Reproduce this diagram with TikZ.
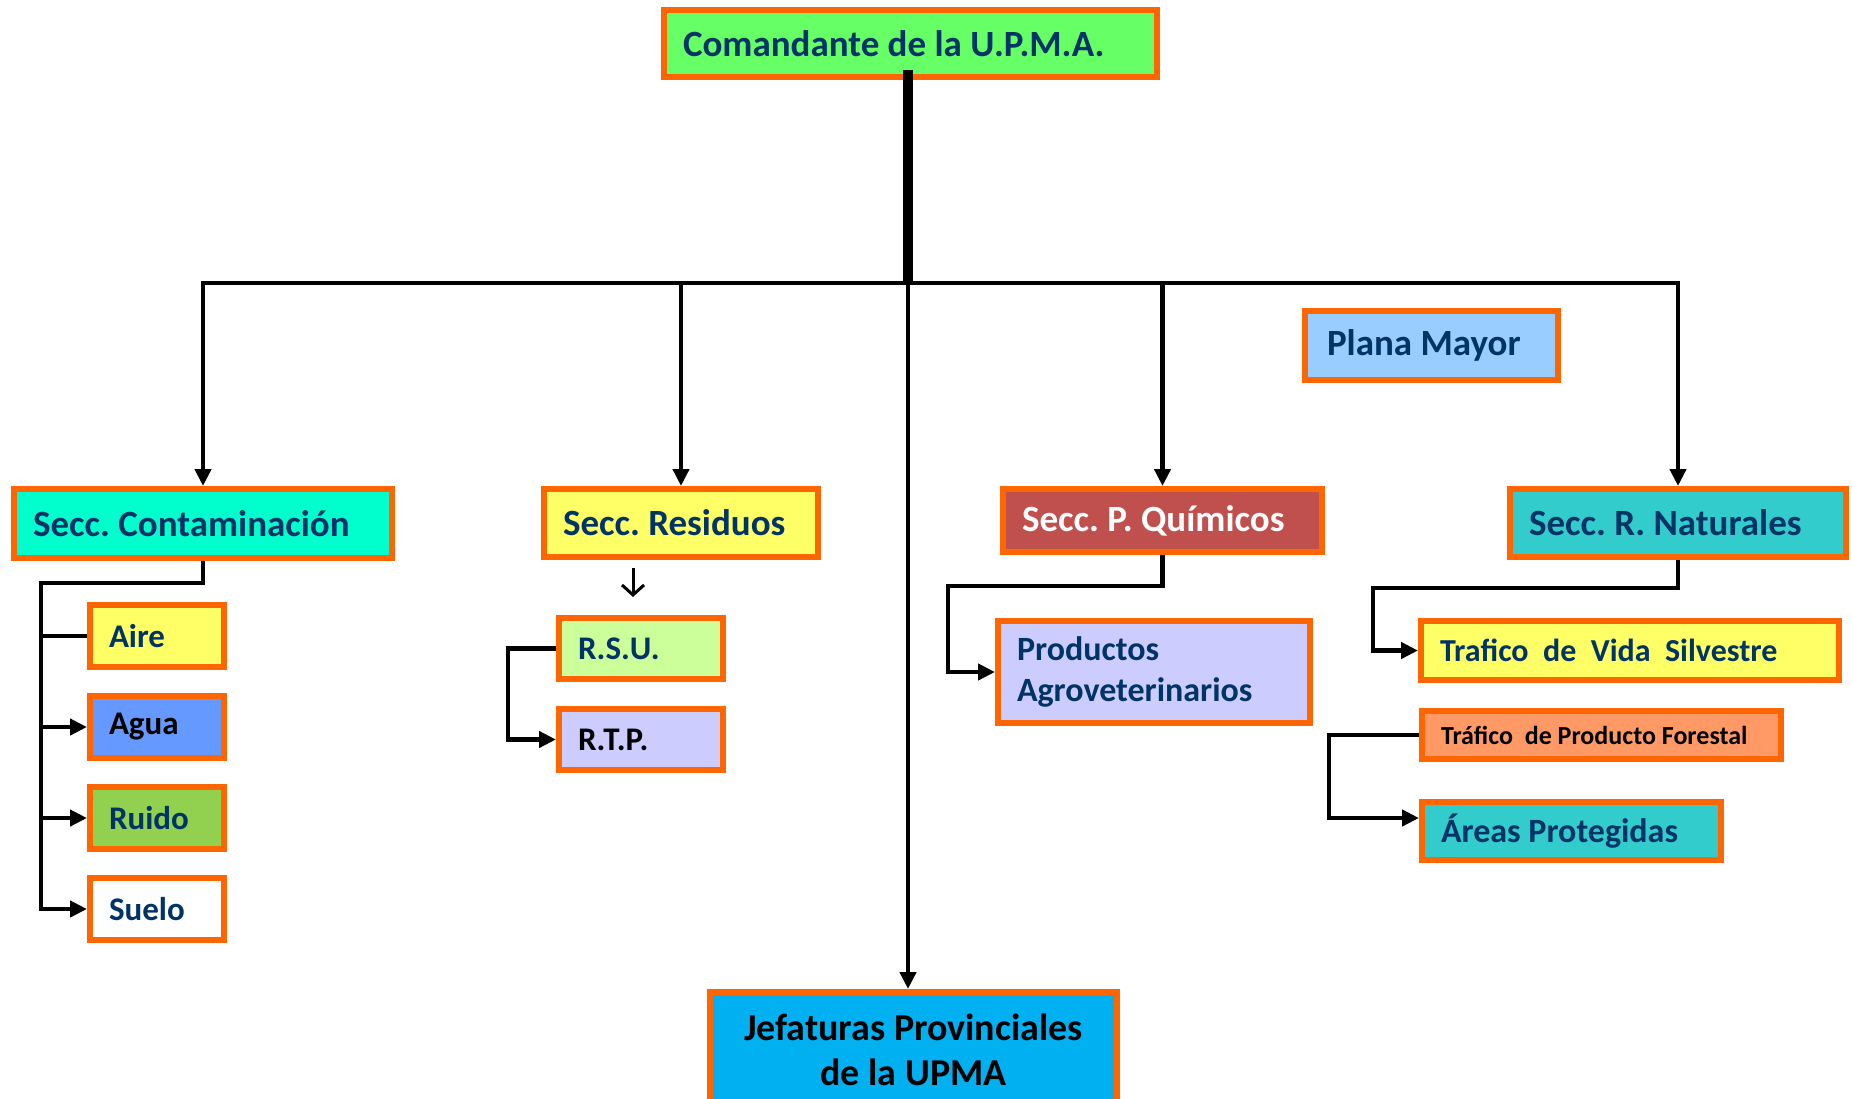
\documentclass[tikz,border=0pt]{standalone}
\usepackage{fontspec}
\setmainfont{Carlito}
\usetikzlibrary{arrows.meta}
\definecolor{naranja}{HTML}{FF6600}
\definecolor{marino}{HTML}{003366}
\definecolor{verdecom}{HTML}{66FF66}
\definecolor{turquesa}{HTML}{00FFCC}
\definecolor{amarillo}{HTML}{FFFF66}
\definecolor{rojizo}{HTML}{C0504D}
\definecolor{cian}{HTML}{33CCCC}
\definecolor{celeste}{HTML}{99CCFF}
\definecolor{azulagua}{HTML}{6699FF}
\definecolor{verderuido}{HTML}{92D050}
\definecolor{verdeclaro}{HTML}{CCFF99}
\definecolor{lila}{HTML}{CCCCFF}
\definecolor{salmon}{HTML}{FF9966}
\definecolor{azuljef}{HTML}{00B0F0}

\begin{document}
\begin{tikzpicture}[x=0.5pt, y=-0.5pt,
    caja/.style={draw=naranja, line width=3pt, anchor=north west, inner xsep=9.5pt,
                 inner ysep=0pt, align=flush left, text=marino, execute at begin node=\frenchspacing},
    seccion/.style={caja, font=\bfseries\fontsize{18.5}{22}\selectfont},
    item/.style={caja, font=\bfseries\fontsize{16.5}{20}\selectfont, text width=48pt, minimum height=31pt},
    linea/.style={line width=2.25pt},
    flecha/.style={line width=2.25pt, -{Triangle[length=8.5pt,width=8pt]}}]
\useasboundingbox (0,0) rectangle (1852,1098);
\clip (0,0) rectangle (1852,1098);

\node[seccion, fill=verdecom, text width=227.5pt, minimum height=33.5pt] (com) at (661,7) {\mbox{Comandante de la U.P.M.A.}};
\node[seccion, fill=celeste, inner xsep=11pt, text width=104.5pt, minimum height=34.5pt] (plana) at (1302,308) {Plana Mayor};

\node[seccion, fill=turquesa, text width=170pt, minimum height=34.5pt] (cont) at (11,486) {Secc. Contaminación};
\node[seccion, fill=amarillo, text width=118pt, minimum height=34pt] (resid) at (541,486) {Secc. Residuos};
\node[seccion, fill=rojizo, text=white, text width=140.5pt, minimum height=31.5pt] (quim) at (1000,486) {Secc. P. Químicos};
\node[seccion, fill=cian, text width=149pt, minimum height=34pt] (nat) at (1507,486) {Secc. R. Naturales};

\node[item, fill=amarillo] (aire) at (87,602) {Aire};
\node[item, fill=azulagua, text=black] (agua) at (87,693) {Agua};
\node[item, fill=verderuido] (ruido) at (87,784) {Ruido};
\node[item, fill=white] (suelo) at (87,875) {Suelo};

\node[item, fill=verdeclaro, text width=63pt, minimum height=30.5pt] (rsu) at (556,615) {R.S.U.};
\node[item, fill=lila, text=black, text width=63pt, minimum height=30.5pt] (rtp) at (556,706) {R.T.P.};

\node[caja, fill=lila, font=\bfseries\fontsize{17}{20.5}\selectfont, text width=137pt, minimum height=51pt] (prod) at (995,618) {Productos\\Agroveterinarios};

\node[caja, fill=amarillo, font=\bfseries\fontsize{16}{19}\selectfont, text width=190pt, minimum height=29.5pt] (vida) at (1418,618) {Trafico\ \ de\ \ Vida\ \ Silvestre};
\node[caja, fill=salmon, text=black, font=\bfseries\fontsize{13}{16}\selectfont, text width=160.5pt, minimum height=24pt] (forestal) at (1419,708) {Tráfico\ \ de Producto Forestal};
\node[caja, fill=cian, font=\bfseries\fontsize{17}{20}\selectfont, text width=130.5pt, minimum height=29pt] (areas) at (1419,799) {Áreas Protegidas};

\node[caja, fill=azuljef, text=black, align=flush center, font=\bfseries\fontsize{19}{22.5}\selectfont, text width=184.5pt, minimum height=58pt] (jef) at (707,989) {Jefaturas Provinciales\\de la UPMA};

\coordinate (bus) at (908,283);
\coordinate (tc) at (41,583);
\coordinate (tq) at (948,586);
\coordinate (tn) at (1373,588);

\draw[line width=5pt] ([yshift=5pt]bus |- com.south) -- (bus);
\draw[flecha] (bus) -| (cont.north);
\draw[flecha] (bus) -| (resid.north);
\draw[flecha] (bus) -| (quim.north);
\draw[flecha] (bus) -| (nat.north);
\draw[flecha] (bus) -- (bus |- jef.north);

\draw[flecha] (cont.south) |- (tc) |- (suelo.west);
\draw[linea] (tc |- aire.west) -- (aire.west);
\draw[flecha] (tc |- agua.west) -- (agua.west);
\draw[flecha] (tc |- ruido.west) -- (ruido.west);

\draw[line width=1.5pt, -{Straight Barb[length=5pt,width=11pt]}] ([xshift=-4pt,yshift=-4pt]rsu.north |- resid.south) -- ([xshift=-4pt,yshift=9pt]rsu.north);
\draw[flecha] (rsu.west) -- ++(-48,0) |- (rtp.west);

\draw[flecha] (quim.south) |- (tq) |- (prod.west);
\draw[flecha] (nat.south) |- (tn) |- (vida.west);
\draw[flecha] (forestal.west) -- ++(-90,0) |- ([yshift=6.5pt]areas.west);
\end{tikzpicture}
\end{document}
